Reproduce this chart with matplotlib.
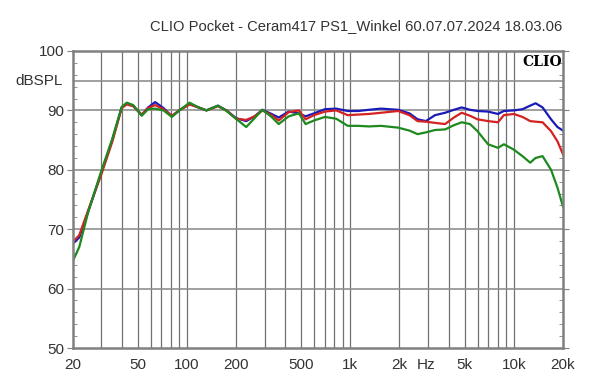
import matplotlib.pyplot as plt
from matplotlib.ticker import FixedLocator, NullFormatter, MultipleLocator

plt.rcParams['font.family'] = ['Liberation Sans', 'DejaVu Sans']

freqs = [20, 22, 25, 30, 35, 40, 43, 47, 53, 58, 64, 72, 81, 90, 104, 118, 132, 155,
         175, 200, 231, 260, 290, 330, 365, 420, 485, 533, 600, 700, 820, 965, 1120,
         1300, 1540, 1960, 2300, 2580, 2900, 3300, 3800, 4300, 4800, 5400, 6000, 6960,
         8000, 8700, 10000, 11300, 12600, 13600, 15000, 16900, 18500, 20000]

blue = [67.5, 68.6, 73.0, 79.5, 85.0, 90.5, 91.2, 90.8, 89.2, 90.5, 91.4, 90.4, 89.0,
        90.0, 91.1, 90.5, 90.0, 90.8, 90.0, 88.7, 88.2, 89.0, 90.1, 89.4, 88.8, 89.8,
        89.5, 89.0, 89.5, 90.2, 90.3, 89.9, 89.9, 90.1, 90.3, 90.1, 89.5, 88.5, 88.2,
        89.2, 89.6, 90.1, 90.5, 90.1, 89.9, 89.8, 89.4, 89.9, 90.0, 90.2, 90.8, 91.2,
        90.5, 88.5, 87.2, 86.6]

red = [67.8, 69.0, 73.3, 79.2, 84.7, 90.4, 91.0, 90.7, 89.3, 90.4, 90.9, 90.2, 89.1,
       90.0, 91.0, 90.5, 90.0, 90.7, 90.0, 88.6, 88.4, 89.0, 90.0, 89.2, 88.3, 89.7,
       90.0, 88.5, 89.2, 89.8, 90.0, 89.2, 89.3, 89.4, 89.6, 89.9, 89.2, 88.2, 88.1,
       87.9, 87.7, 88.8, 89.6, 89.1, 88.5, 88.2, 88.0, 89.2, 89.4, 88.9, 88.2, 88.1,
       88.0, 86.5, 84.8, 82.6]

green = [64.5, 67.0, 73.0, 79.8, 85.2, 90.6, 91.3, 90.9, 89.1, 90.2, 90.3, 90.0, 88.9,
         90.0, 91.3, 90.5, 90.0, 90.8, 89.9, 88.6, 87.2, 88.7, 90.1, 88.9, 87.7, 89.0,
         89.5, 87.7, 88.3, 88.9, 88.6, 87.4, 87.4, 87.3, 87.4, 87.1, 86.6, 86.0, 86.3,
         86.7, 86.8, 87.5, 88.0, 87.7, 86.5, 84.3, 83.7, 84.3, 83.4, 82.3, 81.2, 82.0,
         82.3, 80.0, 77.0, 73.8]

x_ticks = [20, 50, 100, 200, 500, 1000, 2000, 5000, 10000, 20000]
x_labels = ['20', '50', '100', '200', '500', '1k', '2k', '5k', '10k', '20k']
y_ticks = [50, 60, 70, 80, 90, 100]
grid_x = [30, 40, 50, 60, 70, 80, 90, 100, 200, 300, 400, 500, 600, 700, 800, 900,
          1000, 2000, 3000, 4000, 5000, 6000, 7000, 8000, 9000, 10000]

fig = plt.figure(figsize=(6, 3.84), dpi=100)
ax = fig.add_axes([72.5 / 600, 1 - 348 / 384, 490.5 / 600, 297 / 384])

ax.plot(freqs, blue, color='#1a1ab8', lw=1.6)
ax.plot(freqs, red, color='#d42222', lw=1.6)
ax.plot(freqs, green, color='#1e8a1e', lw=1.6)

ax.set_xscale('log')
ax.set_xlim(20, 20000)
ax.set_ylim(50, 100)

for gx in grid_x:
    ax.axvline(gx, color='#707070', lw=0.9, zorder=0)
for gy in [60, 70, 80, 90, 95]:
    ax.axhline(gy, color='#909090', lw=1.2, zorder=0)

ax.xaxis.set_major_locator(FixedLocator(x_ticks))
ax.set_xticklabels(x_labels)
ax.xaxis.set_minor_locator(FixedLocator([]))
ax.xaxis.set_minor_formatter(NullFormatter())
ax.set_yticks(y_ticks)
ax.yaxis.set_minor_locator(MultipleLocator(2))
ax.tick_params(axis='x', length=0, labelsize=11, pad=7, labelcolor='#333333')
ax.tick_params(axis='y', which='major', length=4, labelsize=11, labelcolor='#333333',
               color='#808080', right=True, pad=2)
ax.tick_params(axis='y', which='minor', length=3, direction='in', color='#808080',
               right=True)

for s in ax.spines.values():
    s.set_color('#808080')
    s.set_linewidth(1.8)

ax.text(-0.02, 0.9, 'dBSPL', transform=ax.transAxes, ha='right', va='center',
        fontsize=11, color='#333333')
ax.text(0.72, -0.034, 'Hz', transform=ax.transAxes, ha='center', va='top',
        fontsize=11, color='#333333')
ax.text(0.997, 0.988, 'CLIO', transform=ax.transAxes, ha='right', va='top',
        fontsize=10, fontweight='bold', family='DejaVu Serif')
fig.text(562 / 600, 1 - 26.5 / 384,
         'CLIO Pocket - Ceram417 PS1_Winkel 60.07.07.2024 18.03.06',
         ha='right', va='center', fontsize=10.6, color='#333333')

fig.savefig('out.png', dpi=100)
